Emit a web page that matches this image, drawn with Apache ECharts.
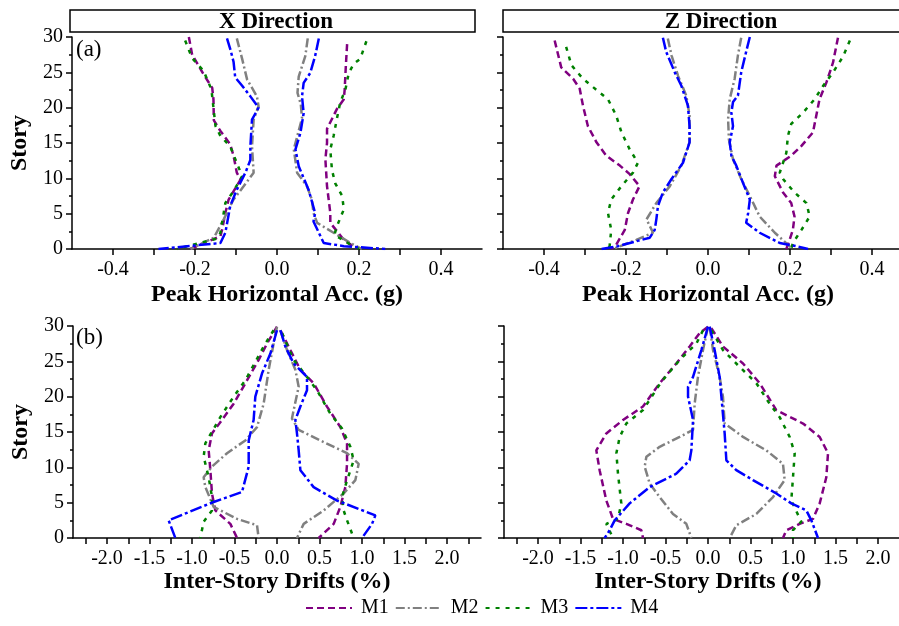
<!DOCTYPE html>
<html>
<head>
<meta charset="utf-8">
<script src="https://cdn.jsdelivr.net/npm/echarts@6/dist/echarts.min.js"></script>
<style>
  html, body { margin: 0; padding: 0; background: #fff; }
  #chart { width: 899px; height: 626px; }
</style>
</head>
<body>
<div id="chart"></div>
<script>
const FONT = '"Liberation Serif", "Times New Roman", serif';

const models = ['M1', 'M2', 'M3', 'M4'];

// tick positions / labels
const accTicks = [-0.4, -0.3, -0.2, -0.1, 0, 0.1, 0.2, 0.3, 0.4];
const accTickLabels = [-0.4, -0.2, 0, 0.2, 0.4];
const driftTicks = [-2.25, -2, -1.75, -1.5, -1.25, -1, -0.75, -0.5, -0.25, 0, 0.25, 0.5, 0.75, 1, 1.25, 1.5, 1.75, 2, 2.25];
const driftTickLabels = [-2, -1.5, -1, -0.5, 0, 0.5, 1, 1.5, 2];

// (a) peak horizontal acc, X direction: [value, story]
const accX_M1_neg = [[-0.215,30],[-0.207,27.5],[-0.179,24.7],[-0.158,22.8],[-0.155,21.2],[-0.154,18.2],[-0.138,16.7],[-0.114,14.8],[-0.106,13.2],[-0.098,10.8],[-0.089,9.8],[-0.118,7],[-0.126,5.1],[-0.134,2.7],[-0.138,1.8],[-0.212,0]];
const accX_M2_neg = [[-0.098,29.8],[-0.085,26.9],[-0.073,24],[-0.049,21.6],[-0.045,20.2],[-0.057,18.3],[-0.061,14.5],[-0.057,10.8],[-0.081,8.9],[-0.106,7],[-0.13,4.2],[-0.154,1.6],[-0.211,0]];
const accX_M3_neg = [[-0.224,29.5],[-0.207,27],[-0.179,25.2],[-0.16,22.6],[-0.155,20],[-0.15,17.4],[-0.138,16],[-0.114,14.5],[-0.085,10.3],[-0.106,8.2],[-0.126,6.5],[-0.138,2.3],[-0.145,1.5],[-0.244,0]];
const accX_M4_neg = [[-0.122,29.8],[-0.114,28.3],[-0.106,26.5],[-0.102,24.3],[-0.085,23.1],[-0.065,21.6],[-0.045,20],[-0.061,18.3],[-0.065,14.5],[-0.065,12.6],[-0.077,10.8],[-0.098,8.4],[-0.114,6.1],[-0.126,2.3],[-0.138,0.85],[-0.289,0]];
const accX_M1_pos = [[0.171,29],[0.168,26],[0.165,22.5],[0.163,21.2],[0.146,19.8],[0.134,18.4],[0.122,17],[0.122,15],[0.118,12.7],[0.122,8.9],[0.13,5.1],[0.13,3.7],[0.163,1.3],[0.195,0]];
const accX_M2_pos = [[0.075,29.8],[0.069,27.3],[0.053,24.4],[0.05,22.1],[0.058,20.5],[0.061,18.5],[0.045,15],[0.041,14.1],[0.049,10.8],[0.073,8.9],[0.085,7],[0.089,5.1],[0.098,3.7],[0.138,2.3],[0.179,0.85],[0.207,0]];
const accX_M3_pos = [[0.218,29.4],[0.203,26.9],[0.187,26.2],[0.175,24.9],[0.167,22.6],[0.154,20.7],[0.146,18.4],[0.138,16],[0.13,14.1],[0.134,11.2],[0.142,9.3],[0.159,7.5],[0.163,5.6],[0.146,3.2],[0.14,2],[0.18,0.6],[0.2,0]];
const accX_M4_pos = [[0.102,29.8],[0.093,27.3],[0.081,24.9],[0.065,23.5],[0.061,21.6],[0.065,19.2],[0.057,16.4],[0.045,14.1],[0.053,11.7],[0.077,8.4],[0.093,5.1],[0.089,3.9],[0.102,2.3],[0.114,0.85],[0.163,0.4],[0.264,0]];

// peak horizontal acc, Z direction
const accZ_M1_neg = [[-0.374,29.5],[-0.358,25.7],[-0.329,24.1],[-0.313,22.7],[-0.305,20.3],[-0.293,17.4],[-0.272,15.1],[-0.248,13.2],[-0.215,11.8],[-0.191,10.6],[-0.167,8.9],[-0.183,7],[-0.195,5.1],[-0.203,2.7],[-0.224,0.6],[-0.236,0]];
const accZ_M2_neg = [[-0.098,29.8],[-0.089,27.4],[-0.073,24.5],[-0.053,21.7],[-0.045,18.9],[-0.045,15.1],[-0.065,11.8],[-0.093,8.9],[-0.126,6.5],[-0.15,4.2],[-0.134,2.3],[-0.175,1.3],[-0.232,0]];
const accZ_M3_neg = [[-0.346,28.6],[-0.333,26],[-0.305,24.1],[-0.276,22.7],[-0.244,21.2],[-0.224,18.9],[-0.211,16.5],[-0.191,14.1],[-0.171,12.2],[-0.183,10.8],[-0.211,8.9],[-0.236,7],[-0.244,5.1],[-0.236,2.7],[-0.24,0.4],[-0.245,0]];
const accZ_M4_neg = [[-0.11,29.9],[-0.102,27.9],[-0.081,25],[-0.065,23.1],[-0.049,20.3],[-0.045,17.4],[-0.045,15.1],[-0.061,12.2],[-0.089,9.9],[-0.11,8],[-0.122,6.1],[-0.126,4.2],[-0.13,2.7],[-0.142,1.6],[-0.22,0.4],[-0.26,0]];
const accZ_M1_pos = [[0.317,29.9],[0.305,26.4],[0.289,23.6],[0.272,21.2],[0.256,16.5],[0.228,14.6],[0.203,13.2],[0.167,11.8],[0.163,10.3],[0.183,8],[0.203,6.5],[0.211,4.6],[0.207,2.7],[0.199,1.3],[0.191,0]];
const accZ_M2_pos = [[0.081,29.9],[0.073,27.4],[0.065,24.1],[0.053,21.2],[0.049,18.4],[0.051,15.5],[0.061,12.7],[0.081,9.9],[0.102,7.5],[0.126,4.6],[0.163,2.3],[0.199,0.4],[0.195,0]];
const accZ_M3_pos = [[0.346,29.5],[0.329,27.2],[0.305,25],[0.281,23.1],[0.26,21.2],[0.232,19.3],[0.203,17.7],[0.195,16],[0.191,13.6],[0.175,10.8],[0.183,9.9],[0.211,8],[0.24,6.5],[0.248,4.6],[0.228,2.7],[0.207,0.85],[0.203,0]];
const accZ_M4_pos = [[0.102,30],[0.093,27.9],[0.081,25],[0.073,21.7],[0.061,20.8],[0.057,19.3],[0.061,17.4],[0.053,15.1],[0.057,13.2],[0.069,11.8],[0.085,9.4],[0.102,7],[0.098,5.1],[0.093,3.7],[0.126,2.3],[0.175,0.85],[0.215,0.4],[0.244,0]];

// (b) inter-story drifts, X direction
const driftX_M1_neg = [[0,29.9],[-0.118,27.5],[-0.216,25.2],[-0.353,22.3],[-0.51,19],[-0.647,16.7],[-0.765,14.8],[-0.804,12.4],[-0.784,9.6],[-0.765,6.3],[-0.725,3.9],[-0.549,2],[-0.47,0]];
const driftX_M2_neg = [[0,29.9],[-0.04,27.5],[-0.098,23.8],[-0.157,19],[-0.235,15.7],[-0.373,13.8],[-0.588,12],[-0.765,10.1],[-0.863,8.6],[-0.843,7.2],[-0.745,4.4],[-0.47,2.7],[-0.235,1.8],[-0.216,0]];
const driftX_M3_neg = [[-0.04,29.4],[-0.157,27.1],[-0.255,24.9],[-0.373,22.3],[-0.51,20],[-0.667,17.1],[-0.843,13.4],[-0.863,11.5],[-0.804,8.6],[-0.765,5.8],[-0.765,3.9],[-0.863,2.3],[-0.902,0]];
const driftX_M4_neg = [[0,29.4],[-0.078,26.1],[-0.176,23.3],[-0.255,20],[-0.275,16.7],[-0.333,13.8],[-0.333,10.1],[-0.412,6.5],[-0.745,5.1],[-1.275,2.5],[-1.196,0]];
const driftX_M1_pos = [[0.04,29.4],[0.157,26.6],[0.275,23.8],[0.431,21.9],[0.588,18.6],[0.745,15.7],[0.824,13.4],[0.824,10.5],[0.804,7.2],[0.745,4.4],[0.667,2],[0.49,0]];
const driftX_M2_pos = [[0.04,29.4],[0.118,26.6],[0.216,23.8],[0.255,21.4],[0.196,18.1],[0.176,16.9],[0.255,15.3],[0.51,13.8],[0.824,12],[0.961,10.5],[0.922,8.2],[0.784,6.3],[0.549,3.9],[0.314,2],[0.235,0]];
const driftX_M3_pos = [[0.059,29],[0.196,25.2],[0.353,22.8],[0.471,20.9],[0.627,17.6],[0.765,15.5],[0.863,12.9],[0.902,11],[0.82,8],[0.765,5.8],[0.784,3.9],[0.824,2.5],[0.902,0]];
const driftX_M4_pos = [[0.04,29.4],[0.098,27.1],[0.196,24.7],[0.353,22.8],[0.353,20.9],[0.275,18.6],[0.216,16.7],[0.235,14.8],[0.255,12.4],[0.275,9.6],[0.431,7.2],[0.706,5.3],[1.157,3.2],[1.118,2],[1,0]];

// inter-story drifts, Z direction
const driftZ_M1_neg = [[0,29.9],[-0.098,29],[-0.216,27.1],[-0.373,24.7],[-0.569,21.9],[-0.765,18.6],[-1,16.7],[-1.196,14.8],[-1.314,12.4],[-1.275,9.6],[-1.196,5.3],[-1.118,2.7],[-0.961,2],[-0.784,1.1],[-0.765,0]];
const driftZ_M2_neg = [[0,29.9],[-0.059,26.6],[-0.118,22.8],[-0.157,19],[-0.176,15.3],[-0.333,14.3],[-0.569,12.9],[-0.725,11.5],[-0.745,10.1],[-0.686,7.7],[-0.569,5.8],[-0.412,3.4],[-0.255,2],[-0.196,0]];
const driftZ_M3_neg = [[-0.059,29.4],[-0.137,27.5],[-0.333,25.2],[-0.549,22.1],[-0.765,18.1],[-0.961,16.2],[-1.039,14.3],[-1.078,12],[-1.059,9.1],[-1.02,4.9],[-1.059,2.7],[-1.196,2],[-1.118,0]];
const driftZ_M4_neg = [[0,29.9],[-0.078,26.6],[-0.176,22.8],[-0.235,21.4],[-0.235,20],[-0.176,16.7],[-0.196,12.4],[-0.216,11],[-0.373,9.1],[-0.686,7.2],[-0.922,4.9],[-1.098,2.5],[-1.157,1.1],[-1.216,0]];
const driftZ_M1_pos = [[0.039,29.7],[0.176,27.1],[0.412,24.7],[0.608,21.9],[0.804,18.1],[1.118,16.2],[1.314,14.3],[1.412,12],[1.392,8.6],[1.314,4.9],[1.235,2.7],[1.078,2],[0.922,1.1],[0.882,0]];
const driftZ_M2_pos = [[0.02,29.9],[0.059,26.6],[0.137,22.8],[0.176,20],[0.196,16.2],[0.412,14.3],[0.686,12.4],[0.882,10.5],[0.902,8.2],[0.765,5.8],[0.569,3.4],[0.333,1.8],[0.255,0]];
const driftZ_M3_pos = [[0.039,29.4],[0.176,26.6],[0.373,24.2],[0.569,21.9],[0.725,19],[0.843,17.1],[0.961,14.3],[1.02,12],[1,8.6],[0.98,5.3],[1.098,2.3],[1,1.1],[1,0]];
const driftZ_M4_pos = [[0.02,29.9],[0.078,26.6],[0.137,22.8],[0.196,14.8],[0.216,11],[0.333,9.6],[0.529,8.2],[0.804,6.3],[0.98,4.9],[1.157,3.9],[1.216,2.5],[1.294,0]];

const lineStyles = {
  M1: { color: '#800080', type: [7, 4] },
  M2: { color: '#808080', type: [9, 3, 2, 3] },
  M3: { color: '#008000', type: [4, 6] },
  M4: { color: '#0000FF', type: [12, 3, 3, 3] }
};

const panels = [
  { M1: [accX_M1_neg, accX_M1_pos], M2: [accX_M2_neg, accX_M2_pos], M3: [accX_M3_neg, accX_M3_pos], M4: [accX_M4_neg, accX_M4_pos] },
  { M1: [accZ_M1_neg, accZ_M1_pos], M2: [accZ_M2_neg, accZ_M2_pos], M3: [accZ_M3_neg, accZ_M3_pos], M4: [accZ_M4_neg, accZ_M4_pos] },
  { M1: [driftX_M1_neg, driftX_M1_pos], M2: [driftX_M2_neg, driftX_M2_pos], M3: [driftX_M3_neg, driftX_M3_pos], M4: [driftX_M4_neg, driftX_M4_pos] },
  { M1: [driftZ_M1_neg, driftZ_M1_pos], M2: [driftZ_M2_neg, driftZ_M2_pos], M3: [driftZ_M3_neg, driftZ_M3_pos], M4: [driftZ_M4_neg, driftZ_M4_pos] }
];

const axisLineStyle = { color: '#000', width: 1.5 };

function fmt1(v) {
  if (Math.abs(v) < 1e-9) {
    return '0.0';
  }
  return v.toFixed(1);
}

function makeXAxis(gridIndex, isDrift) {
  return {
    type: 'value',
    gridIndex,
    min: isDrift ? -2.4 : -0.5,
    max: isDrift ? 2.4 : 0.5,
    name: isDrift ? 'Inter-Story Drifts (%)' : 'Peak Horizontal Acc. (g)',
    nameLocation: 'middle',
    nameGap: isDrift ? 31 : 34,
    nameTextStyle: { fontFamily: FONT, fontSize: 24, fontWeight: 'bold', color: '#000' },
    axisLine: { show: true, onZero: false, lineStyle: axisLineStyle },
    axisTick: { show: true, length: 6, customValues: isDrift ? driftTicks : accTicks, lineStyle: axisLineStyle },
    axisLabel: {
      customValues: isDrift ? driftTickLabels : accTickLabels,
      formatter: fmt1,
      margin: 11,
      fontFamily: FONT,
      fontSize: 20,
      color: '#000'
    },
    splitLine: { show: false }
  };
}

function makeYAxis(gridIndex, showLabels) {
  return {
    type: 'value',
    gridIndex,
    min: 0,
    max: 30,
    interval: 5,
    name: showLabels ? 'Story' : '',
    nameLocation: 'middle',
    nameGap: 40,
    nameRotate: 90,
    nameTextStyle: { fontFamily: FONT, fontSize: 24, fontWeight: 'bold', color: '#000' },
    axisLine: { show: true, onZero: false, lineStyle: axisLineStyle },
    axisTick: { show: true, length: 6, lineStyle: axisLineStyle },
    minorTick: { show: true, splitNumber: 2, length: 3, lineStyle: axisLineStyle },
    axisLabel: { show: showLabels, margin: 9, fontFamily: FONT, fontSize: 20, color: '#000' },
    splitLine: { show: false }
  };
}

const series = [];
panels.forEach((panel, idx) => {
  models.forEach(m => {
    panel[m].forEach(data => {
      series.push({
        name: m,
        type: 'line',
        xAxisIndex: idx,
        yAxisIndex: idx,
        data,
        symbol: 'none',
        silent: true,
        color: lineStyles[m].color,
        lineStyle: { width: 2.5, color: lineStyles[m].color, type: lineStyles[m].type }
      });
    });
  });
});

const chart = echarts.init(document.getElementById('chart'), null, { renderer: 'canvas' });

chart.setOption({
  backgroundColor: '#fff',
  animation: false,
  grid: [
    { left: 72, top: 37, width: 410, height: 212, outerBoundsMode: 'none' },
    { left: 503, top: 37, width: 410, height: 212, outerBoundsMode: 'none' },
    { left: 73, top: 326, width: 408, height: 212, outerBoundsMode: 'none' },
    { left: 504, top: 326, width: 408, height: 212, outerBoundsMode: 'none' }
  ],
  xAxis: [makeXAxis(0, false), makeXAxis(1, false), makeXAxis(2, true), makeXAxis(3, true)],
  yAxis: [makeYAxis(0, true), makeYAxis(1, false), makeYAxis(2, true), makeYAxis(3, false)],
  legend: {
    data: models,
    left: 300,
    top: 593,
    itemWidth: 46,
    itemHeight: 14,
    itemGap: 6,
    selectedMode: false,
    itemStyle: { color: 'rgba(0,0,0,0)', borderColor: 'rgba(0,0,0,0)', borderWidth: 0, opacity: 0 },
    textStyle: { fontFamily: FONT, fontSize: 20, color: '#000', padding: [0, 0, 0, 4] }
  },
  graphic: [
    { type: 'rect', shape: { x: 70, y: 10, width: 405, height: 22 }, style: { fill: '#fff', stroke: '#000', lineWidth: 1.5 } },
    { type: 'rect', shape: { x: 503, y: 10, width: 440, height: 22 }, style: { fill: '#fff', stroke: '#000', lineWidth: 1.5 } },
    { type: 'text', x: 276, y: 22, style: { text: 'X Direction', font: 'bold 23px ' + FONT, fill: '#000', textAlign: 'center', textVerticalAlign: 'middle' } },
    { type: 'text', x: 721, y: 22, style: { text: 'Z Direction', font: 'bold 23px ' + FONT, fill: '#000', textAlign: 'center', textVerticalAlign: 'middle' } },
    { type: 'text', x: 76, y: 50, style: { text: '(a)', font: '23px ' + FONT, fill: '#000', textAlign: 'left', textVerticalAlign: 'middle' } },
    { type: 'text', x: 76, y: 338, style: { text: '(b)', font: '23px ' + FONT, fill: '#000', textAlign: 'left', textVerticalAlign: 'middle' } }
  ],
  series
});
</script>
</body>
</html>
